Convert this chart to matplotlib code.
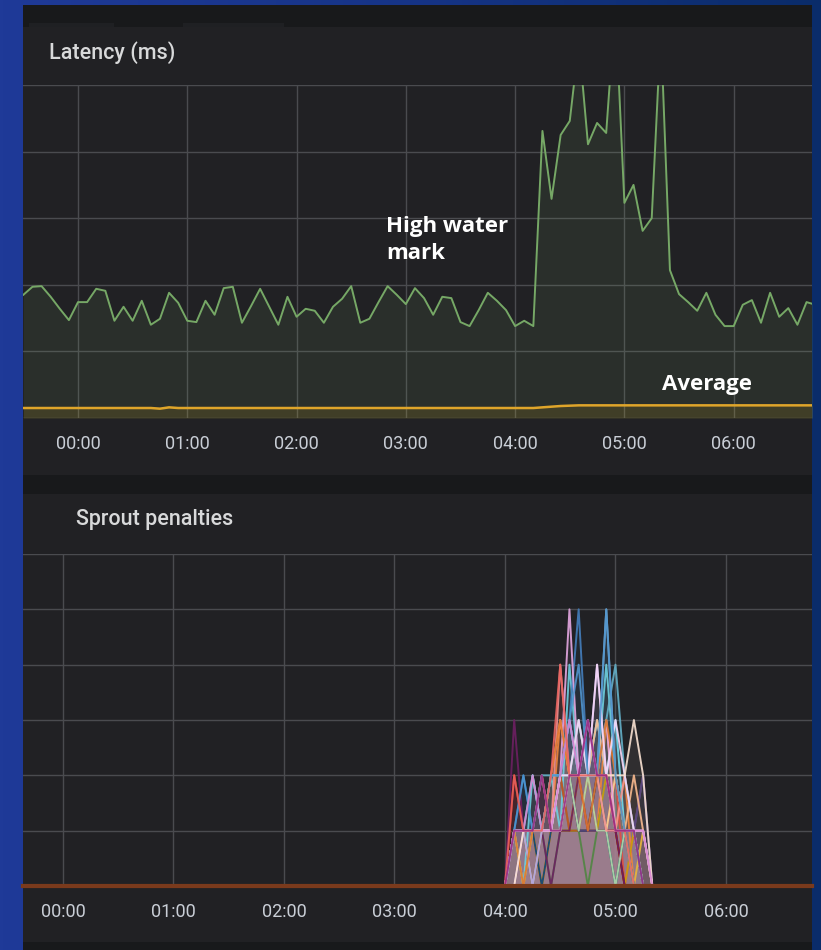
import numpy as np
import matplotlib
matplotlib.use("Agg")
import matplotlib.pyplot as plt
from matplotlib.patches import Rectangle
from matplotlib.colors import LinearSegmentedColormap

W, H = 821, 950

# ---- data ----
# latency panel: one sample every 5 minutes, starting 30 min before 00:00
lat_start, lat_step = -30, 5
high_water = [1.85, 1.97, 1.98, 1.82, 1.64, 1.47, 1.74, 1.74, 1.94, 1.91,
              1.46, 1.67, 1.46, 1.76, 1.40, 1.49, 1.88, 1.73, 1.46, 1.44,
              1.76, 1.55, 1.95, 1.97, 1.43, 1.68, 1.94, 1.67, 1.40, 1.82,
              1.52, 1.64, 1.61, 1.43, 1.67, 1.79, 1.98, 1.43, 1.49, 1.74,
              1.98, 1.85, 1.71, 1.95, 1.80, 1.55, 1.82, 1.80, 1.44, 1.38,
              1.62, 1.88, 1.76, 1.62, 1.38, 1.46, 1.38, 4.31, 3.29, 4.25,
              4.46, 5.65, 4.11, 4.43, 4.28, 6.20, 3.23, 3.50, 2.81, 3.00,
              5.83, 2.22, 1.86, 1.74, 1.61, 1.88, 1.55, 1.38, 1.38, 1.70,
              1.77, 1.43, 1.88, 1.52, 1.65, 1.40, 1.74, 1.70]
average = [0.15, 0.15, 0.15, 0.15, 0.15, 0.15, 0.15, 0.15, 0.15, 0.15,
           0.15, 0.15, 0.15, 0.15, 0.15, 0.14, 0.16, 0.15, 0.15, 0.15,
           0.15, 0.15, 0.15, 0.15, 0.15, 0.15, 0.15, 0.15, 0.15, 0.15,
           0.15, 0.15, 0.15, 0.15, 0.15, 0.15, 0.15, 0.15, 0.15, 0.15,
           0.15, 0.15, 0.15, 0.15, 0.15, 0.15, 0.15, 0.15, 0.15, 0.15,
           0.15, 0.15, 0.15, 0.15, 0.15, 0.15, 0.15, 0.16, 0.17, 0.18,
           0.185, 0.19, 0.19, 0.19, 0.19, 0.19, 0.19, 0.19, 0.19, 0.19,
           0.19, 0.19, 0.19, 0.19, 0.19, 0.19, 0.19, 0.19, 0.19, 0.19,
           0.19, 0.19, 0.19, 0.19, 0.19, 0.19, 0.19, 0.19]

tick_labels = ["00:00", "01:00", "02:00", "03:00", "04:00", "05:00", "06:00"]

# sprout penalties: 5-minute samples from 04:00 to 05:20, zero elsewhere
pen_start, pen_step = 240, 5
penalties = {
    "#7EB26D": [0, 1, 1, 0, 1, 1, 2, 1, 1, 1, 2, 1, 1, 0, 1, 0, 0],
    "#EAB839": [0, 0, 1, 1, 0, 1, 1, 2, 1, 2, 1, 2, 2, 1, 0, 1, 0],
    "#6ED0E0": [0, 1, 0, 2, 1, 2, 1, 4, 2, 3, 2, 4, 2, 1, 1, 0, 0],
    "#EF843C": [0, 1, 1, 1, 1, 1, 3, 2, 1, 2, 1, 3, 1, 2, 0, 0, 0],
    "#E24D42": [0, 2, 1, 1, 0, 1, 2, 1, 2, 1, 2, 1, 2, 0, 1, 0, 0],
    "#1F78C1": [0, 1, 2, 1, 1, 1, 1, 2, 1, 2, 1, 2, 1, 1, 0, 0, 0],
    "#BA43A9": [0, 0, 1, 1, 2, 1, 1, 2, 2, 3, 2, 1, 1, 0, 1, 0, 0],
    "#705DA0": [0, 1, 0, 1, 1, 1, 2, 1, 2, 2, 1, 2, 1, 1, 1, 2, 0],
    "#508642": [0, 0, 1, 0, 1, 0, 1, 1, 1, 0, 1, 1, 0, 1, 0, 0, 0],
    "#CCA300": [0, 1, 0, 1, 0, 1, 1, 1, 2, 1, 1, 2, 1, 0, 1, 0, 0],
    "#447EBC": [0, 1, 1, 1, 1, 2, 2, 3, 5, 2, 3, 2, 1, 1, 0, 0, 0],
    "#C15C17": [0, 0, 1, 1, 1, 1, 2, 1, 1, 2, 1, 1, 1, 0, 0, 0, 0],
    "#890F02": [0, 2, 1, 0, 1, 1, 1, 2, 1, 1, 2, 1, 1, 0, 0, 0, 0],
    "#0A437C": [0, 0, 1, 1, 0, 1, 1, 2, 1, 1, 2, 1, 0, 1, 0, 0, 0],
    "#6D1F62": [0, 3, 1, 1, 1, 0, 1, 1, 2, 1, 1, 1, 1, 0, 0, 0, 0],
    "#584477": [0, 0, 1, 0, 1, 1, 1, 2, 1, 1, 1, 1, 1, 1, 1, 2, 0],
    "#B7DBAB": [0, 1, 0, 1, 1, 1, 2, 2, 1, 2, 1, 1, 0, 1, 0, 0, 0],
    "#F4D598": [0, 1, 1, 0, 1, 1, 1, 2, 3, 2, 2, 1, 2, 1, 1, 0, 0],
    "#70DBED": [0, 1, 1, 2, 1, 1, 2, 3, 2, 2, 3, 2, 3, 1, 1, 0, 0],
    "#F9BA8F": [0, 1, 1, 1, 1, 2, 3, 2, 2, 2, 3, 2, 1, 1, 2, 1, 0],
    "#F29191": [0, 1, 1, 1, 2, 1, 4, 2, 2, 2, 2, 1, 1, 2, 1, 1, 0],
    "#82B5D8": [0, 1, 1, 1, 1, 2, 2, 3, 2, 3, 2, 5, 2, 1, 1, 0, 0],
    "#E5A8E2": [0, 0, 1, 1, 1, 1, 2, 5, 2, 2, 2, 3, 1, 1, 1, 0, 0],
    "#AEA2E0": [0, 1, 1, 0, 1, 1, 1, 2, 2, 2, 4, 2, 1, 1, 1, 1, 0],
    "#64B0C8": [0, 1, 1, 1, 2, 2, 2, 2, 3, 2, 2, 3, 4, 2, 1, 0, 0],
    "#E0752D": [0, 1, 0, 1, 1, 2, 3, 2, 2, 1, 2, 3, 2, 1, 1, 0, 0],
    "#F9D9F9": [0, 1, 1, 1, 1, 1, 2, 2, 3, 2, 4, 2, 3, 2, 1, 1, 0],
    "#F9E2D2": [0, 0, 1, 1, 1, 1, 1, 2, 2, 2, 2, 2, 2, 2, 3, 2, 0],
    "#5195CE": [0, 1, 2, 1, 1, 2, 2, 3, 4, 2, 2, 5, 2, 1, 1, 0, 0],
    "#D683CE": [0, 1, 1, 2, 1, 1, 2, 3, 2, 3, 2, 2, 1, 1, 1, 1, 0],
    "#EA6460": [0, 2, 1, 1, 1, 2, 4, 2, 2, 2, 2, 2, 1, 1, 0, 0, 0],
    "#962D82": [0, 1, 1, 1, 2, 1, 1, 2, 2, 3, 2, 2, 1, 1, 1, 0, 0],
}

# ---- style ----
panel_bg = "#212124"
strip_bg = "#18191b"
grid_c = "#4a4b4f"
text_c = "#d8d9da"
tick_c = "#c9ced6"

fig = plt.figure(figsize=(W / 100, H / 100), dpi=100)

# background axes in pixel coordinates
bg = fig.add_axes([0, 0, 1, 1], zorder=-5)
bg.set_xlim(0, W)
bg.set_ylim(H, 0)
bg.axis("off")
blue = LinearSegmentedColormap.from_list("blue", ["#1f3a98", "#163487", "#0a2c6a"])
bg.imshow(np.linspace(0, 1, 256)[None, :], cmap=blue, aspect="auto",
          extent=[0, W, H, 0])

def box(x0, y0, x1, y1, c):
    bg.add_patch(Rectangle((x0, y0), x1 - x0, y1 - y0, color=c, lw=0))

box(23, 5, 812, 27, strip_bg)
box(29, 23, 114, 27, "#1f2023")
box(183, 23, 284, 27, "#1f2023")
box(23, 27, 812, 475, panel_bg)
box(23, 475, 812, 494, strip_bg)
box(23, 494, 812, 942, panel_bg)
box(23, 942, 812, 950, strip_bg)

def pan_axes(top, bottom):
    return fig.add_axes([23 / W, 1 - bottom / H, 789 / W, (bottom - top) / H])

def style_axes(ax, ymax):
    ax.set_facecolor("none")
    for s in ax.spines.values():
        s.set_visible(False)
    ax.set_ylim(0, ymax)
    ax.set_yticks(range(ymax + 1))
    ax.set_xticks(range(0, 361, 60))
    ax.set_xticklabels(tick_labels)
    ax.tick_params(axis="both", length=0, labelleft=False, labelsize=13,
                   labelcolor=tick_c, pad=12)
    for lab in ax.get_xticklabels():
        lab.set_family("Roboto")
    ax.grid(True, color=grid_c, lw=1.0)
    ax.set_axisbelow(True)

# ---- latency panel ----
ax1 = pan_axes(85, 418)
style_axes(ax1, 5)
ax1.set_xlim(-30.2, 403)
t1 = lat_start + lat_step * np.arange(len(high_water))
ax1.fill_between(t1, high_water, color="#7EB26D", alpha=0.1, lw=0)
ax1.plot(t1, high_water, color="#76a866", lw=1.4)
ax1.fill_between(t1, average, color="#E5AC0E", alpha=0.12, lw=0)
ax1.plot(t1, average, color="#dfa52a", lw=1.8)

fig.text(49 / W, 1 - 53 / H, "Latency (ms)", color=text_c, fontsize=15.5,
         family="Roboto", weight="medium", va="center")
fig.text(386 / W, 1 - 216 / H, "High water\nmark", color="white", fontsize=16,
         family="Open Sans", weight="bold", va="top", linespacing=1.35)
fig.text(662 / W, 1 - 374 / H, "Average", color="white", fontsize=16,
         family="Open Sans", weight="bold", va="top")

# ---- sprout penalties panel ----
ax2 = pan_axes(554, 886)
style_axes(ax2, 6)
ax2.set_xlim(-21.7, 406.7)
t2 = pen_start + pen_step * np.arange(17)
for c, vals in penalties.items():
    ax2.fill_between(t2, vals, color=c, alpha=0.07, lw=0)
    ax2.plot(t2, vals, color=c, lw=1.4, alpha=0.9)
ax2.axhline(0, color="#7a3a1c", lw=3, clip_on=False)

fig.text(76 / W, 1 - 520 / H, "Sprout penalties", color=text_c, fontsize=15.5,
         family="Roboto", weight="medium", va="center")

fig.savefig("out.png", dpi=100)
